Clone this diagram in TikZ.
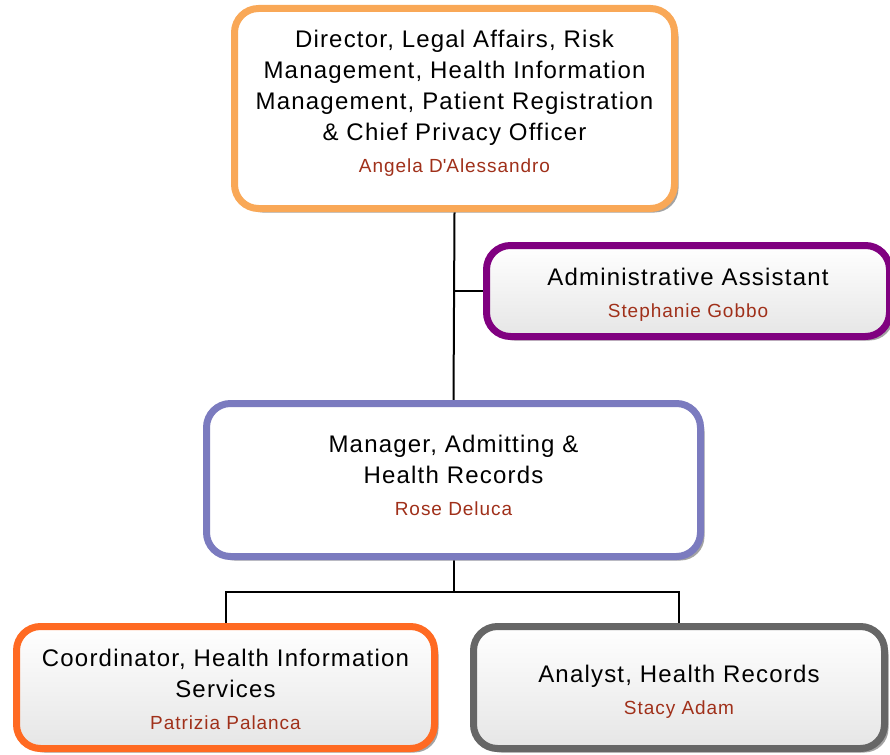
\documentclass[tikz,border=0pt]{standalone}
\usepackage{fontspec}
\setmainfont{Liberation Sans}
\usepackage{xcolor}
\usepackage{tikz}
\usetikzlibrary{positioning,shadows,calc,backgrounds}
\definecolor{dirorange}{HTML}{F9A857}
\definecolor{asspurple}{HTML}{800080}
\definecolor{manblue}{HTML}{7B7BBF}
\definecolor{coordorange}{HTML}{FF6A22}
\definecolor{anagray}{HTML}{666666}
\definecolor{namered}{HTML}{A0301A}
\newcommand{\pname}[1]{{\color{namered}\fontsize{19}{24}\selectfont\addfontfeature{LetterSpace=5} #1}}

\begin{document}
\begin{tikzpicture}[x=1pt,y=-1pt,
  orgbox/.style={draw,line width=7pt,rounded corners=24pt,align=center,
    inner sep=0pt,font=\fontsize{24}{31}\selectfont\addfontfeature{LetterSpace=5},
    drop shadow={shadow xshift=4pt,shadow yshift=-4pt,fill=black!45,opacity=.8}},
  plainfill/.style={fill=white},
  greyfill/.style={top color=white,bottom color=black!10},
  link/.style={draw=black,line width=2pt}]
\useasboundingbox (0,0) rectangle (890,754);

\node[orgbox,plainfill,draw=dirorange,minimum width=440pt,minimum height=200pt] (director) at (454.5,108.5)%
{Director, Legal Affairs, Risk\\Management, Health Information\\Management, Patient Registration\\\& Chief Privacy Officer\\[1pt]\pname{Angela D\textquotesingle Alessandro}\\[-16pt]};
\node[orgbox,greyfill,draw=asspurple,minimum width=403pt,minimum height=91pt] (assistant) at (688,291)%
{\rule{0pt}{25pt}Administrative Assistant\\[1pt]\pname{Stephanie Gobbo}};
\node[orgbox,plainfill,draw=manblue,minimum width=494pt,minimum height=153pt] (manager) at (453.5,480)%
{Manager, Admitting \&\\Health Records\\[1pt]\pname{Rose Deluca}\\[-22pt]};
\node[orgbox,greyfill,draw=coordorange,minimum width=418pt,minimum height=122pt] (coordinator) at (225.5,687.5)%
{\rule{0pt}{22pt}Coordinator, Health Information\\Services\\[1pt]\pname{Patrizia Palanca}};
\node[orgbox,greyfill,draw=anagray,minimum width=411pt,minimum height=122pt] (analyst) at (679,687.5)%
{\rule{0pt}{26pt}Analyst, Health Records\\[1pt]\pname{Stacy Adam}};

% connectors
\coordinate (asslink) at (director.south |- assistant.west);
\coordinate (split) at ($(manager.south)+(0,32)$);
\begin{scope}[on background layer]
\draw[link] (director.south) -- (manager.north);
\draw[link] (asslink) -- (assistant.west);
\draw[link] (manager.south) -- (split) -| (coordinator.north);
\draw[link] (split) -| (analyst.north);
\end{scope}
\end{tikzpicture}
\end{document}
